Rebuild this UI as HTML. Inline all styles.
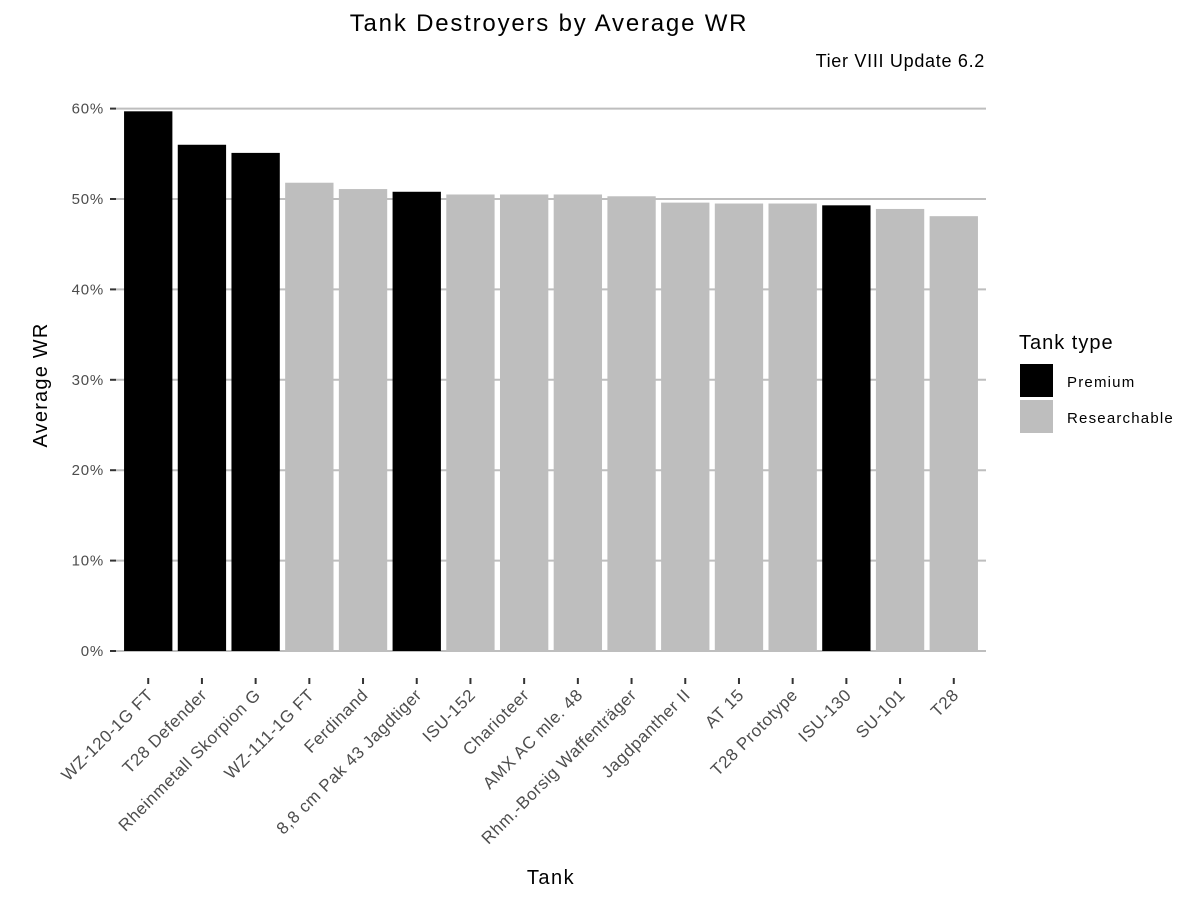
<!DOCTYPE html>
<html><head><meta charset="utf-8"><style>
body{margin:0;background:#fff;font-family:"Liberation Sans",Arial,sans-serif;}
svg text{font-family:"Liberation Sans",Arial,sans-serif;}
</style></head><body>
<svg id="chart" width="1200" height="900">
<text x="549" y="31" text-anchor="middle" font-size="24" letter-spacing="1.8" fill="#000">Tank Destroyers by Average WR</text>
<text x="985" y="67" text-anchor="end" font-size="18" letter-spacing="0.7" fill="#000">Tier VIII Update 6.2</text>
<g id="grid"></g>
<g id="bars"></g>
<g id="yaxis"></g>
<g id="xaxis"></g>
<text transform="translate(47,385) rotate(-90)" text-anchor="middle" font-size="20" letter-spacing="1.2">Average WR</text>
<text x="551" y="884" text-anchor="middle" font-size="20" letter-spacing="1.5">Tank</text>
<g>
<text x="1019" y="349" font-size="20" letter-spacing="1">Tank type</text>
<g><rect x="1020" y="364" width="33" height="33" fill="#000"/><text x="1067" y="387" font-size="15" letter-spacing="1.2">Premium</text></g>
<g><rect x="1020" y="400" width="33" height="33" fill="#bebebe"/><text x="1067" y="423" font-size="15" letter-spacing="1.2">Researchable</text></g>
</g>
</svg>
<script>
const categories=["WZ-120-1G FT","T28 Defender","Rheinmetall Skorpion G","WZ-111-1G FT","Ferdinand","8,8 cm Pak 43 Jagdtiger","ISU-152","Charioteer","AMX AC mle. 48","Rhm.-Borsig Waffenträger","Jagdpanther II","AT 15","T28 Prototype","ISU-130","SU-101","T28"];
const winRates=[59.7,56.0,55.1,51.8,51.1,50.8,50.5,50.5,50.5,50.3,49.6,49.5,49.5,49.3,48.9,48.1];
const premium=[1,1,1,0,0,1,0,0,0,0,0,0,0,1,0,0];
const yTicks=[0,10,20,30,40,50,60];
const yTickLabels=["0%","10%","20%","30%","40%","50%","60%"];
const NS="http://www.w3.org/2000/svg";
const pL=116,pR=986,y0=651,pxPer=9.04;
const band=(pR-pL)/(categories.length-1+1.2);
function x(i){return pL+0.6*band+i*band;}
function y(v){return y0-v*pxPer;}
function mk(t,a,p){const e=document.createElementNS(NS,t);for(const k in a)e.setAttribute(k,a[k]);p.appendChild(e);return e;}
const grid=document.getElementById('grid'),bars=document.getElementById('bars'),ya=document.getElementById('yaxis'),xa=document.getElementById('xaxis');
yTicks.forEach((v,i)=>{
  const g=mk('line',{x1:pL,x2:pR,y1:y(v),y2:y(v),stroke:'#bebebe','stroke-width':2},grid);
  
  
  mk('line',{x1:110,x2:116,y1:y(v),y2:y(v),stroke:'#333','stroke-width':2},ya);
  const t=mk('text',{x:104,y:y(v)+5,'text-anchor':'end','font-size':15,'letter-spacing':0.8,fill:'#4d4d4d'},ya);
  t.textContent=yTickLabels[i];
  
  
});
categories.forEach((c,i)=>{
  const w=band*0.9;
  const r=mk('rect',{x:x(i)-w/2,y:y(winRates[i]),width:w,height:y(0)-y(winRates[i]),fill:premium[i]?'#000':'#bebebe'},bars);
  
  
  mk('line',{x1:x(i),x2:x(i),y1:678,y2:684,stroke:'#333','stroke-width':2},xa);
  const t=mk('text',{transform:`translate(${x(i)+6},${696}) rotate(-45)`,'text-anchor':'end','font-size':17,'letter-spacing':0.6,fill:'#4d4d4d'},xa);
  t.textContent=c;
  
  
});
</script>
</body></html>
